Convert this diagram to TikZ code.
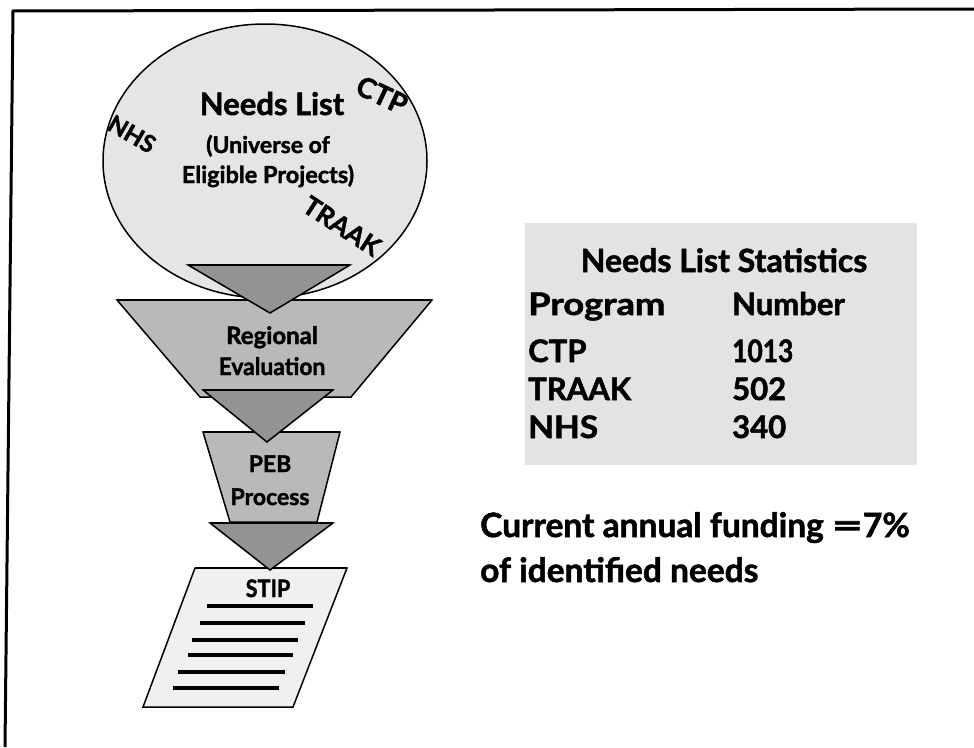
\documentclass[tikz,border=0pt]{standalone}
\usepackage{fontspec}
\setmainfont{Lato}[BoldFeatures={FakeBold=1.6}]
\usepackage{graphicx}
\begin{document}
\begin{tikzpicture}[x=1pt,y=-1pt,
  shapeline/.style={draw=black,line width=1.5pt,line join=miter},
  midfill/.style={fill=gray!55},
  darkfill/.style={fill=gray!85},
  lbl/.style={font=\bfseries,inner sep=0pt,anchor=base},
  doclinestyle/.style={line width=4pt,black}
]
\useasboundingbox (0,0) rectangle (974,747);
% frame (only top and left visible)
\draw[line width=3pt] (5,747) -- (13,11) -- (974,9);

% Needs list ellipse
\draw[shapeline,fill=gray!20] (265,161) ellipse [x radius=162, y radius=137];
\node[lbl,font=\bfseries\fontsize{31}{36}\selectfont] (needs) at (272,115) {Needs List};
\node[lbl,font=\bfseries\fontsize{23}{26}\selectfont] (univ) at (268,153) {(Universe of};
\node[lbl,font=\bfseries\fontsize{23.5}{26}\selectfont] (elig) at (268,183) {Eligible Projects)};
\node[lbl,anchor=center,rotate=-25,font=\bfseries\fontsize{28}{30}\selectfont] (ctp) at (382,95) {CTP};
\node[lbl,anchor=center,rotate=-30,font=\bfseries\fontsize{24}{28}\selectfont] (nhs) at (132,134) {NHS};
\node[lbl,anchor=center,rotate=-33,font=\bfseries\fontsize{26}{30}\selectfont] (traak) at (342,226) {TRAAK};

% Regional evaluation trapezoid
\draw[shapeline,midfill] (117,300) -- (432,300) -- (351,397) -- (200,397) -- cycle;
\draw[line width=2.6pt] (117,300) -- (432,300);
% funnel triangle 1
\draw[shapeline,darkfill] (188,265) -- (350,265) -- (270,313) -- cycle;
\draw[line width=2.6pt] (188,265) -- (350,265);
\node[lbl,font=\bfseries\fontsize{24}{26}\selectfont] (reg) at (272,344) {Regional};
\node[lbl,font=\bfseries\fontsize{24}{26}\selectfont] (eval) at (272,375) {\scalebox{0.95}[1]{Evaluation}};

% PEB trapezoid
\draw[shapeline,midfill] (203,432) -- (340,432) -- (317,522) -- (230,522) -- cycle;
\draw[line width=2.6pt] (203,432) -- (340,432);
% funnel triangle 2
\draw[shapeline,darkfill] (203,390) -- (333,390) -- (267,442) -- cycle;
\draw[line width=2.6pt] (203,390) -- (333,390);
\node[lbl,font=\bfseries\fontsize{23}{26}\selectfont] (peb) at (270,472) {PEB};
\node[lbl,font=\bfseries\fontsize{23}{26}\selectfont] (proc) at (270,505) {Process};

% STIP document
\draw[shapeline,fill=gray!12] (195,568) -- (347,568) -- (293,707) -- (143,707) -- cycle;
\draw[line width=2.6pt] (195,568) -- (347,568);
% funnel triangle 3
\draw[shapeline,darkfill] (210,523) -- (333,523) -- (270,570) -- cycle;
\draw[line width=2.6pt] (210,523) -- (333,523);
\node[lbl,font=\bfseries\fontsize{24}{28}\selectfont] (stip) at (268,597) {\scalebox{0.9}[1]{STIP}};
\draw[doclinestyle] (207,606) -- (313,606);
\draw[doclinestyle] (200,623) -- (305,623);
\draw[doclinestyle] (192,640) -- (298,640);
\draw[doclinestyle] (188,655) -- (293,655);
\draw[doclinestyle] (178,672) -- (285,672);
\draw[doclinestyle] (173,688) -- (279,688);

% statistics box
\fill[gray!22] (525,223) rectangle (917,465);
\node[lbl,font=\bfseries\fontsize{32}{36}\selectfont] (sttitle) at (724,272) {Needs List Statistics};
\tikzset{statl/.style={lbl,anchor=base west,font=\bfseries\fontsize{31}{36}\selectfont}}
\node[statl] (hprog) at (528,315) {\scalebox{1.17}[1]{Program}};
\node[statl] (hnum) at (732,315) {Number};
\node[statl] (rctp) at (528,362) {CTP};
\node[statl] (vctp) at (732,362) {\scalebox{0.85}[1]{1013}};
\node[statl] (rtraak) at (528,400) {TRAAK};
\node[statl] (vtraak) at (732,400) {502};
\node[statl] (rnhs) at (528,438) {\scalebox{1.08}[1]{NHS}};
\node[statl] (vnhs) at (732,438) {340};

% funding note
\node[statl,font=\bfseries\fontsize{33.5}{36}\selectfont] (fund1) at (480,537) {Current annual funding \scalebox{1.6}[1]{=}7\%};
\node[statl,font=\bfseries\fontsize{33.5}{36}\selectfont] (fund2) at (480,582) {of identified needs};
\end{tikzpicture}
\end{document}
